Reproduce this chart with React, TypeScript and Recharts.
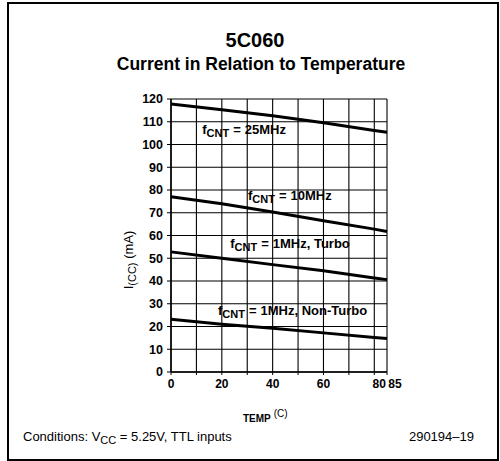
import { CartesianGrid, Line, LineChart, ReferenceDot, XAxis, YAxis } from "recharts";

const temps = [0, 20, 40, 60, 80, 85];
const f25 = [117.8, 115.3, 112.6, 109.6, 106.2, 105.4];
const f10 = [77, 74, 70.3, 66.5, 62.8, 61.8];
const f1Turbo = [52.8, 50, 47.2, 44.5, 41.3, 40.6];
const f1NonTurbo = [23.2, 21, 19.2, 17.2, 15.2, 14.7];

const xTicks = [0, 10, 20, 30, 40, 50, 60, 70, 80, 85];
const xTickLabels = ["0", "", "20", "", "40", "", "60", "", "80", "85"];
const yTicks = [0, 10, 20, 30, 40, 50, 60, 70, 80, 90, 100, 110, 120];

const curveLabels = [
  { x: 12.3, y: 104.7, text: "25MHz" },
  { x: 30.3, y: 75.5, text: "10MHz" },
  { x: 23.3, y: 54.5, text: "1MHz, Turbo" },
  { x: 18.5, y: 25, text: "1MHz, Non-Turbo" },
];

const data = temps.map((t, i) => ({
  t,
  f25: f25[i],
  f10: f10[i],
  f1Turbo: f1Turbo[i],
  f1NonTurbo: f1NonTurbo[i],
}));

const FONT = "'Liberation Sans', Arial, Helvetica, sans-serif";

function XTick(props: any) {
  const { x, y, payload, index } = props;
  const shift = payload.value === 85 ? 8 : payload.value === 80 ? 5 : 0;
  return (
    <text x={x + shift} y={y + 11} textAnchor="middle" fontFamily={FONT} fontSize={12} fontWeight={700} fill="#000">
      {xTickLabels[index]}
    </text>
  );
}

function curveLabel(text: string) {
  return (props: any) => {
    const vb = props.viewBox || {};
    return (
      <text x={vb.x} y={vb.y} fontFamily={FONT} fontSize={13} fontWeight={700} fill="#000">
        f
        <tspan dy={3} fontSize={11}>CNT</tspan>
        <tspan dy={-3} dx={4}>=</tspan>
        <tspan dx={4}>{text}</tspan>
      </text>
    );
  };
}

export default function App() {
  return (
    <div style={{ position: "absolute", left: 0, top: 0, width: 500, height: 461, background: "#fff", fontFamily: FONT }}>
      <div
        style={{
          position: "absolute",
          left: 7,
          top: 2,
          width: 488,
          height: 455,
          border: "2px solid #000",
        }}
      />
      <LineChart width={500} height={461} data={data} margin={{ top: 99, right: 113, left: 0, bottom: 59 }}>
        <CartesianGrid stroke="#000" strokeWidth={1.1} horizontalValues={yTicks} verticalValues={xTicks} />
        <XAxis
          dataKey="t"
          type="number"
          domain={[0, 85]}
          ticks={xTicks}
          interval={0}
          tick={<XTick />}
          tickSize={3}
          tickLine={{ stroke: "#000" }}
          axisLine={{ stroke: "#000", strokeWidth: 1.5 }}
          height={30}
        />
        <YAxis
          type="number"
          domain={[0, 120]}
          ticks={yTicks}
          interval={0}
          width={171}
          tickSize={4}
          tickMargin={4}
          tickLine={{ stroke: "#000" }}
          axisLine={{ stroke: "#000", strokeWidth: 1.5 }}
          tick={{ fill: "#000", fontSize: 12.5, fontWeight: 700, fontFamily: FONT }}
        />
        <Line dataKey="f25" stroke="#000" strokeWidth={3} dot={false} isAnimationActive={false} />
        <Line dataKey="f10" stroke="#000" strokeWidth={3} dot={false} isAnimationActive={false} />
        <Line dataKey="f1Turbo" stroke="#000" strokeWidth={3} dot={false} isAnimationActive={false} />
        <Line dataKey="f1NonTurbo" stroke="#000" strokeWidth={3} dot={false} isAnimationActive={false} />
        {curveLabels.map((c) => (
          <ReferenceDot
            key={c.text}
            x={c.x}
            y={c.y}
            r={0}
            fill="none"
            stroke="none"
            label={{ content: curveLabel(c.text) }}
          />
        ))}
      </LineChart>
      <svg width={500} height={461} style={{ position: "absolute", left: 0, top: 0, pointerEvents: "none" }}>
        <text x={255} y={47} textAnchor="middle" fontFamily={FONT} fontSize={20} fontWeight={700} fill="#000">
          5C060
        </text>
        <text x={261} y={70} textAnchor="middle" fontFamily={FONT} fontSize={17.5} fontWeight={700} fill="#000">
          Current in Relation to Temperature
        </text>
        <text
          transform="translate(133,260) rotate(-90)"
          textAnchor="middle"
          fontFamily={FONT}
          fontSize={13}
          fill="#000"
        >
          I<tspan dy={3} fontSize={11}>(CC)</tspan>
          <tspan dy={-3}> (mA)</tspan>
        </text>
        <text x={243} y={422} fontFamily={FONT} fontSize={10} fontWeight={700} fill="#000">
          TEMP
          <tspan dx={3} dy={-5} fontSize={10} fontWeight={400}>(C)</tspan>
        </text>
        <text x={23} y={441} fontFamily={FONT} fontSize={13} fill="#000">
          Conditions: V<tspan dy={3} fontSize={11}>CC</tspan>
          <tspan dy={-3}> =  5.25V, TTL inputs</tspan>
        </text>
        <text x={474} y={441} textAnchor="end" fontFamily={FONT} fontSize={13} fill="#000">
          290194–19
        </text>
      </svg>
    </div>
  );
}
